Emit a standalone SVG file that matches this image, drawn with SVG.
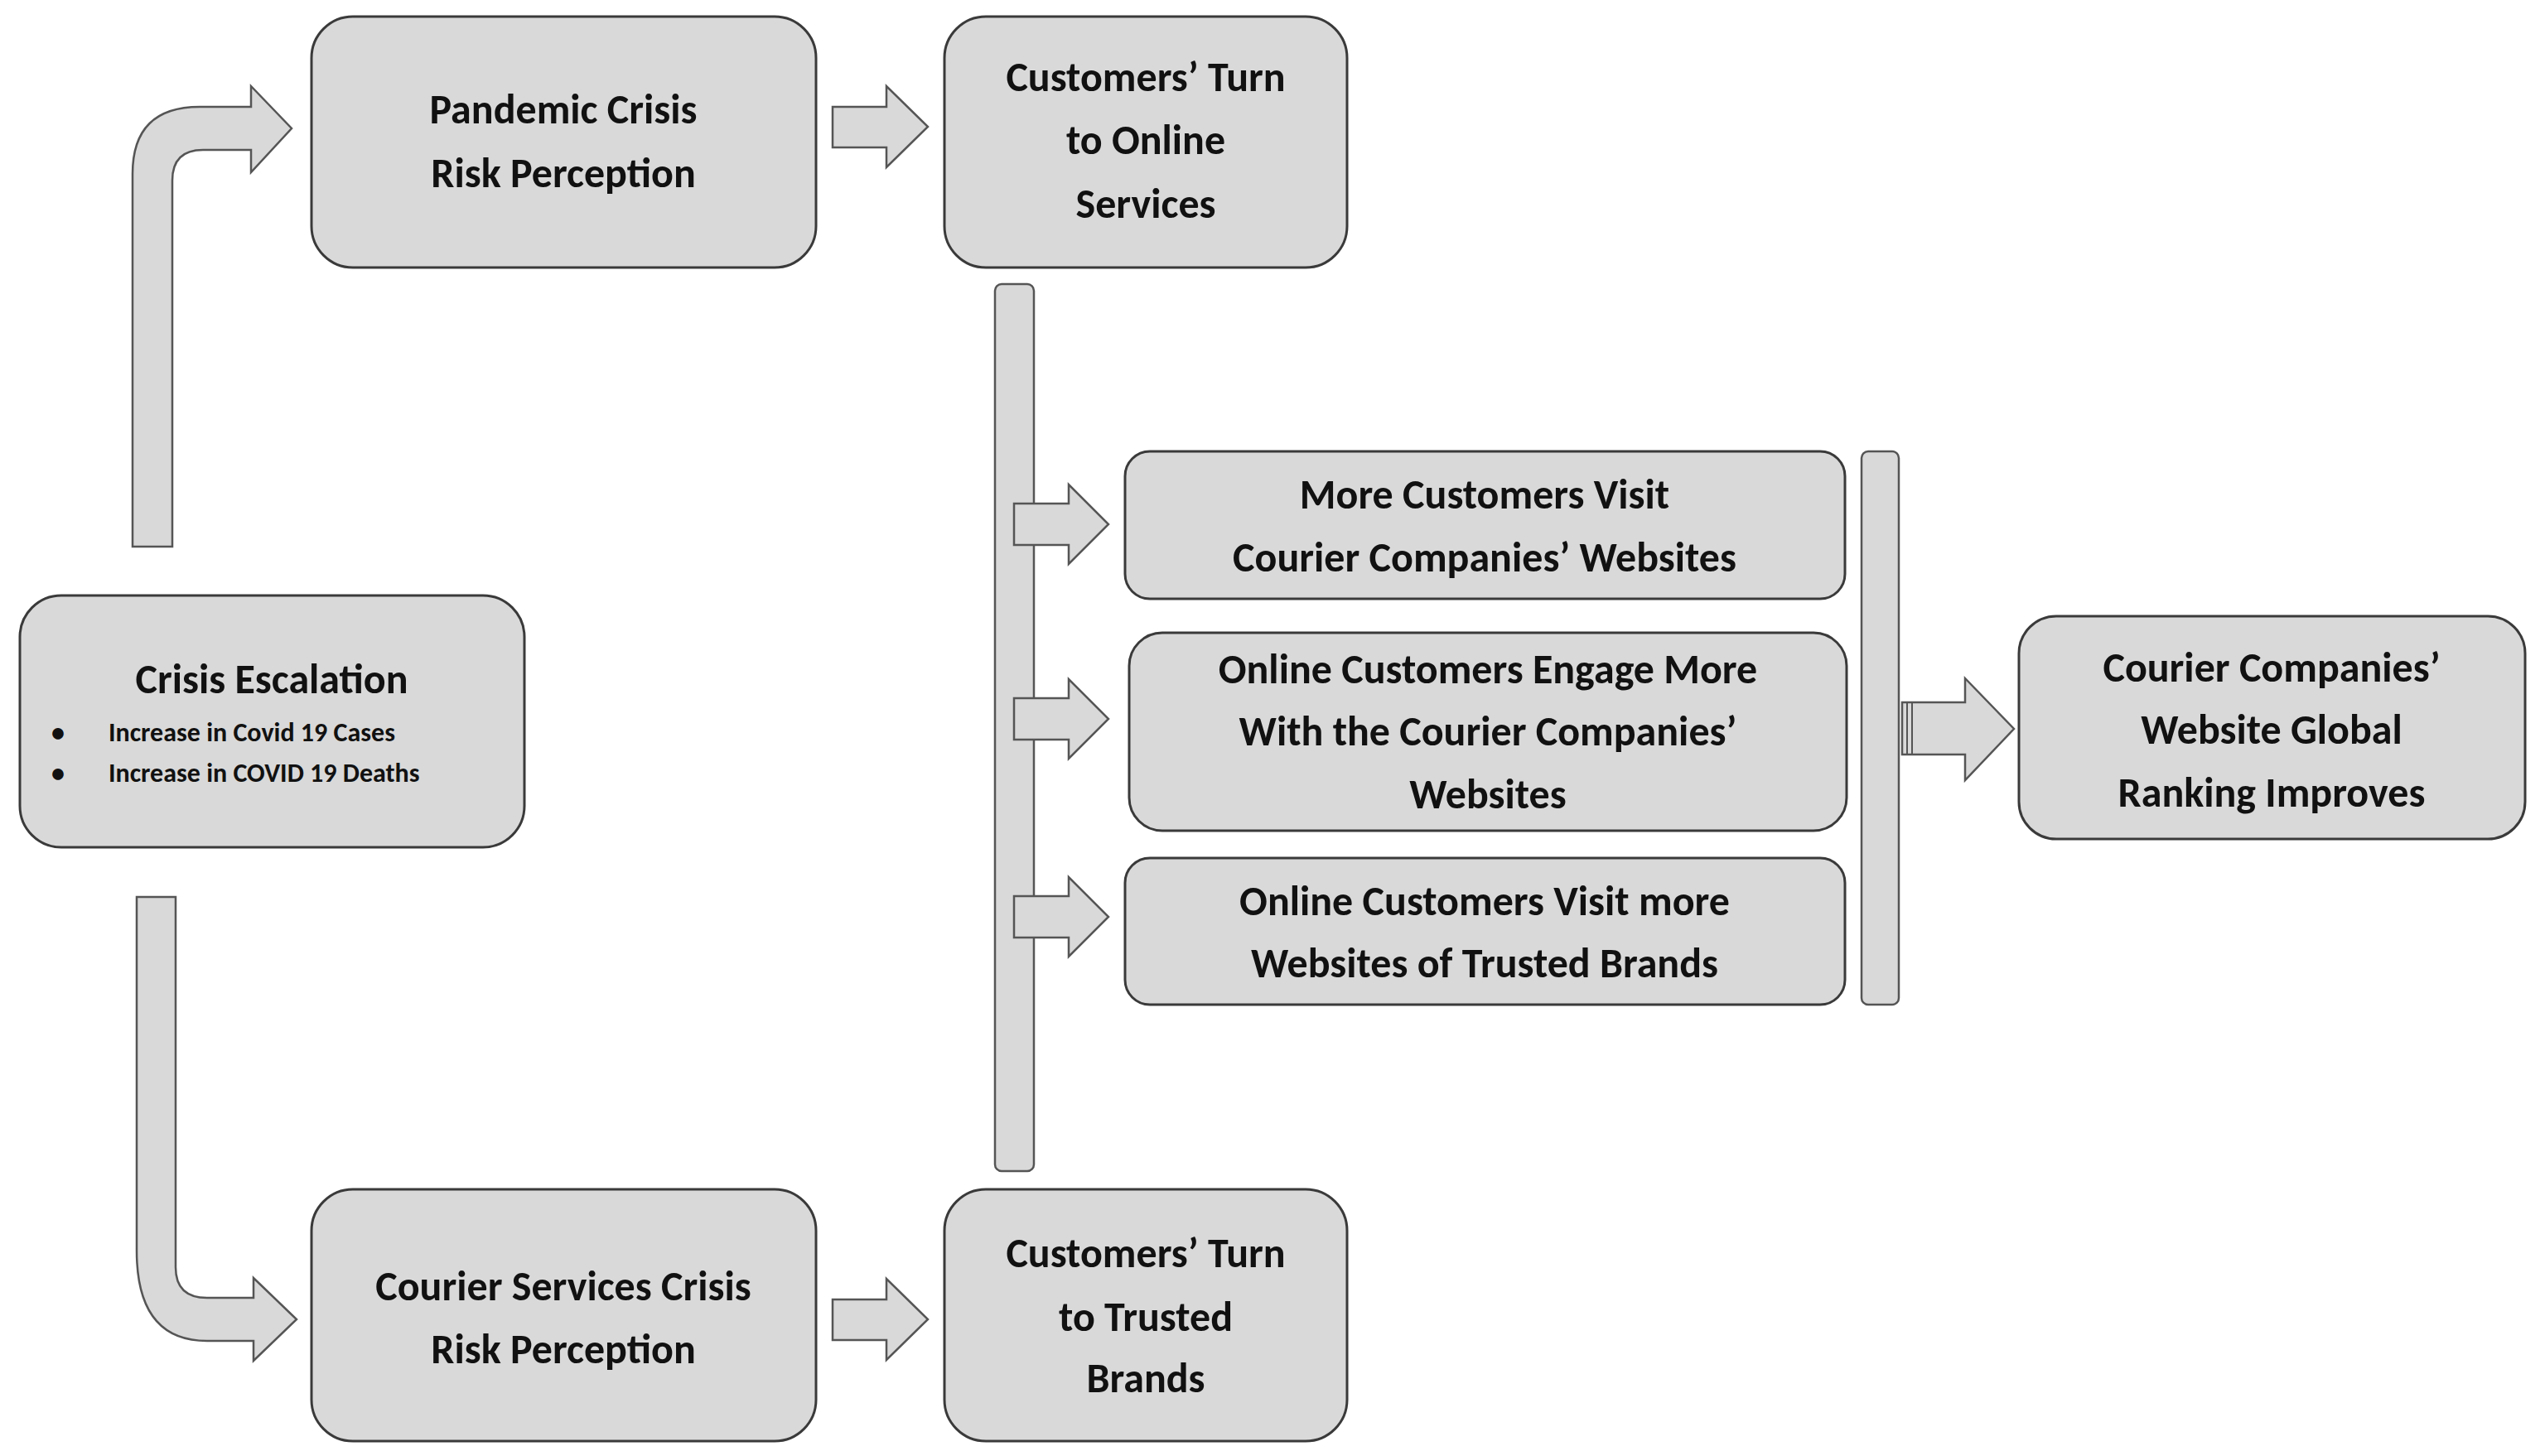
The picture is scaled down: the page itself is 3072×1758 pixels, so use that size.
<svg xmlns="http://www.w3.org/2000/svg" width="3072" height="1758" viewBox="0 0 3072 1758">
<style>
.b{fill:#d9d9d9;stroke:#3a3a3a;stroke-width:3}
.a{fill:#d9d9d9;stroke:#555;stroke-width:2.5}
.t{font-family:Carlito,"Liberation Sans",sans-serif;font-weight:bold;font-size:50px;fill:#111;text-anchor:middle}
.s{font-family:Carlito,"Liberation Sans",sans-serif;font-weight:bold;font-size:32px;fill:#111}
</style>
<rect width="3072" height="1758" fill="#fff"/>
<g id="connectors">
<path class="a" d="M160,660 V210 Q160,129 241,129 H303 V104 L352,155 L303,208 V181 H245 Q208,181 208,218 V660 Z"/>
<path class="a" d="M165,1083 V1510 Q165,1619 250,1619 H306 V1643 L358,1593 L306,1543 V1567 H250 Q212,1567 212,1530 V1083 Z"/>
<path class="a" d="M1005,129 H1070 V104 L1120,153 L1070,202 V178 H1005 Z"/>
<path class="a" d="M1005,1569 H1070 V1544 L1120,1593 L1070,1642 V1618 H1005 Z"/>
<rect class="a" x="1201" y="343" width="47" height="1071" rx="8"/>
<path class="a" d="M1224,608 H1290 V585 L1338,633 L1290,681 V658 H1224 Z"/>
<path class="a" d="M1224,843 H1290 V820 L1338,868 L1290,916 V893 H1224 Z"/>
<path class="a" d="M1224,1082 H1290 V1059 L1338,1107 L1290,1155 V1132 H1224 Z"/>
<rect class="a" x="2247" y="545" width="45" height="668" rx="8"/>
<path class="a" d="M2296,848 H2372 V819 L2431,880 L2372,942 V911 H2296 Z"/>
<path fill="none" stroke="#555" stroke-width="2" d="M2302,848 V911 M2308,848 V911"/>
</g>
<g id="n1"><rect class="b" x="376" y="20" width="609" height="303" rx="50"/>
<text class="t" x="680" y="149">Pandemic Crisis</text><text class="t" x="680" y="226">Risk Perception</text></g>
<g id="n2"><rect class="b" x="1140" y="20" width="486" height="303" rx="50"/>
<text class="t" x="1383" y="110">Customers’ Turn</text><text class="t" x="1383" y="186">to Online</text><text class="t" x="1383" y="263">Services</text></g>
<g id="n3"><rect class="b" x="24" y="719" width="609" height="304" rx="50"/>
<text class="t" x="328" y="837">Crisis Escalation</text>
<text class="s" x="62" y="895">•</text><text class="s" x="131" y="895">Increase in Covid 19 Cases</text>
<text class="s" x="62" y="944">•</text><text class="s" x="131" y="944">Increase in COVID  19 Deaths</text></g>
<g id="n4"><rect class="b" x="376" y="1436" width="609" height="304" rx="50"/>
<text class="t" x="680" y="1570">Courier  Services Crisis</text><text class="t" x="680" y="1646">Risk Perception</text></g>
<g id="n5"><rect class="b" x="1140" y="1436" width="486" height="304" rx="50"/>
<text class="t" x="1383" y="1530">Customers’ Turn</text><text class="t" x="1383" y="1607">to Trusted</text><text class="t" x="1383" y="1681">Brands</text></g>
<g id="n6"><rect class="b" x="1358" y="545" width="869" height="178" rx="30"/>
<text class="t" x="1792" y="614">More Customers Visit</text><text class="t" x="1792" y="690">Courier Companies’ Websites</text></g>
<g id="n7"><rect class="b" x="1363" y="764" width="866" height="239" rx="40"/>
<text class="t" x="1796" y="825">Online Customers Engage More</text><text class="t" x="1796" y="900">With the Courier Companies’</text><text class="t" x="1796" y="976">Websites</text></g>
<g id="n8"><rect class="b" x="1358" y="1036" width="869" height="177" rx="30"/>
<text class="t" x="1792" y="1105">Online Customers Visit more</text><text class="t" x="1792" y="1180">Websites of Trusted Brands</text></g>
<g id="n9"><rect class="b" x="2437" y="744" width="611" height="269" rx="45"/>
<text class="t" x="2742" y="823">Courier Companies’</text><text class="t" x="2742" y="898">Website  Global</text><text class="t" x="2742" y="974">Ranking Improves</text></g>
</svg>
